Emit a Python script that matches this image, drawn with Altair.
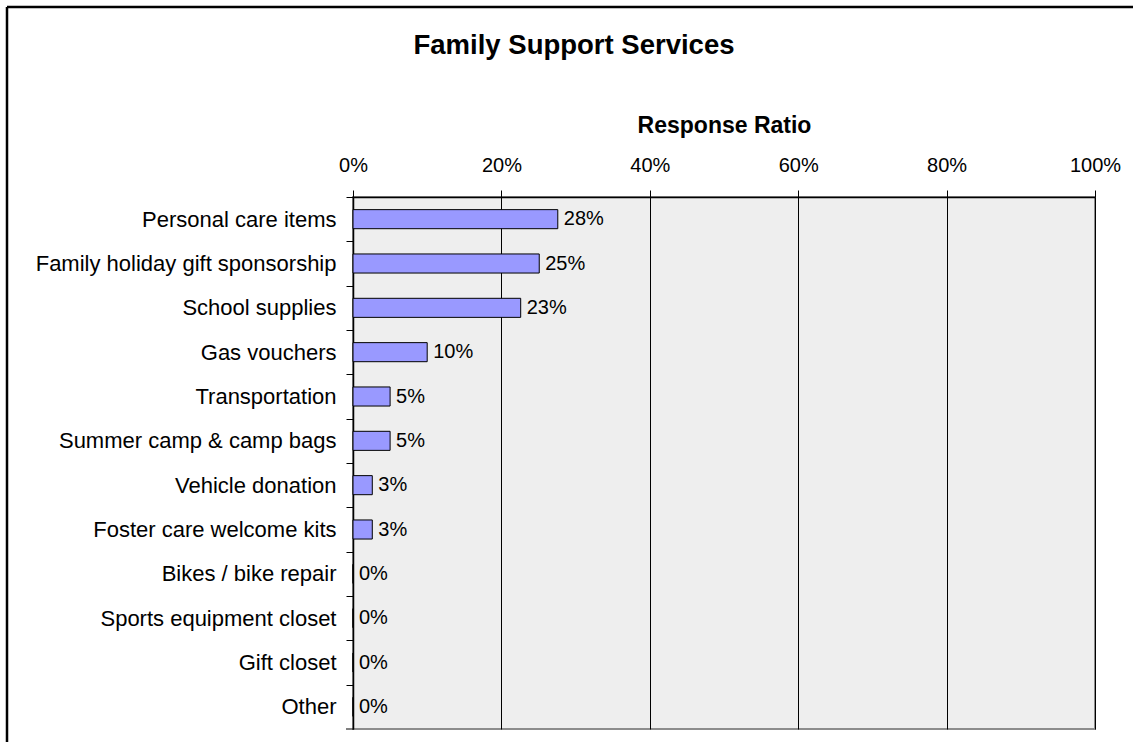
import altair as alt
import pandas as pd

TITLE = "Family Support Services"
AXIS_TITLE = "Response Ratio"

categories = [
    "Personal care items",
    "Family holiday gift sponsorship",
    "School supplies",
    "Gas vouchers",
    "Transportation",
    "Summer camp & camp bags",
    "Vehicle donation",
    "Foster care welcome kits",
    "Bikes / bike repair",
    "Sports equipment closet",
    "Gift closet",
    "Other",
]
ratios = [0.276, 0.251, 0.226, 0.100, 0.050, 0.050, 0.026, 0.026, 0.0, 0.0, 0.0, 0.0]
x_ticks = [0, 0.2, 0.4, 0.6, 0.8, 1.0]

FONT = "Liberation Sans"
W, H = 742, 532
STEP = H / len(categories)
PAD = {"left": 353, "top": 197, "right": 38, "bottom": 13}

df = pd.DataFrame({"category": categories, "ratio": ratios})

x_enc = alt.X(
    "ratio:Q",
    scale=alt.Scale(domain=[0, 1], nice=False, zero=True),
    axis=alt.Axis(
        orient="top",
        values=x_ticks,
        format=".0%",
        title=AXIS_TITLE,
        titleFontSize=23,
        titleFontWeight="bold",
        titleFont=FONT,
        titleColor="black",
        titleX=W / 2,
        titleY=-65,
        titleAlign="center",
        titleBaseline="alphabetic",
        labelFontSize=20,
        labelFont=FONT,
        labelColor="black",
        labelPadding=15,
        labelFlush=False,
        tickSize=7,
        tickColor="black",
        domainColor="black",
        domainWidth=1.5,
        grid=True,
        gridColor="black",
        gridWidth=1,
    ),
)
y_enc = alt.Y(
    "category:N",
    sort=categories,
    scale=alt.Scale(paddingInner=0.57, paddingOuter=0.285),
    axis=alt.Axis(
        title=None,
        tickOffset=-STEP / 2,
        labelOffset=STEP / 2,
        labelFontSize=22,
        labelFont=FONT,
        labelColor="black",
        labelPadding=10,
        tickSize=7,
        tickColor="black",
        domainColor="black",
        domainWidth=1.5,
        grid=False,
        labelLimit=400,
    ),
)

base = alt.Chart(df)
bars = base.mark_bar(fill="#9999FF", stroke="black", strokeWidth=1).encode(x=x_enc, y=y_enc)
labels = base.mark_text(
    align="left", baseline="middle", dx=6, fontSize=20, font=FONT, color="black"
).encode(x=x_enc, y=y_enc, text=alt.Text("ratio:Q", format=".0%"))

one = pd.DataFrame({"t": [TITLE]})
title_text = alt.Chart(one).mark_text(
    align="center", baseline="alphabetic", fontSize=27.5, fontWeight="bold", font=FONT, color="black"
).encode(text="t:N", x=alt.value(574 - 353), y=alt.value(54 - 197))

# closing tick at the bottom end of the category axis
bottom_tick = alt.Chart(one).mark_rule(color="black", strokeWidth=1).encode(
    x=alt.value(-7), x2=alt.value(0), y=alt.value(H)
)

frame_top = alt.Chart(one).mark_rule(color="black", strokeWidth=2.5).encode(
    x=alt.value(7 - 353), x2=alt.value(1200), y=alt.value(7 - 197)
)
frame_left = alt.Chart(one).mark_rule(color="black", strokeWidth=2.5).encode(
    x=alt.value(7 - 353), y=alt.value(7 - 197), y2=alt.value(700)
)

chart = (
    alt.layer(bars, labels, title_text, bottom_tick, frame_top, frame_left)
    .properties(width=W, height=H, padding=PAD, autosize=alt.AutoSizeParams(type="none"))
    .configure(background="white")
    .configure_view(fill="#EEEEEE", stroke="#8C8C8C", strokeWidth=2)
)

chart.save("out.html", embed_options={"renderer": "svg", "actions": False})
